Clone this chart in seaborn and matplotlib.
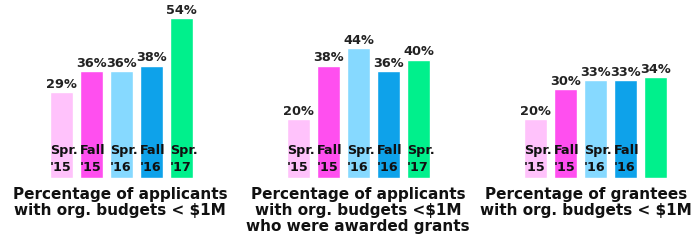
import matplotlib
matplotlib.use("Agg")
import matplotlib.pyplot as plt
import seaborn as sns
import pandas as pd

# Datos
terms = ["Spr. '15", "Fall '15", "Spr. '16", "Fall '16", "Spr. '17"]
bar_labels = ["Spr.\n'15", "Fall\n'15", "Spr.\n'16", "Fall\n'16", "Spr.\n'17"]
colors = ["#FFC2FB", "#FF4FEF", "#86D9FF", "#0EA2EA", "#00F08C"]

applicants = [29, 36, 36, 38, 54]
awarded = [20, 38, 44, 36, 40]
grantees = [20, 30, 33, 33, 34]

titles = [
    "Percentage of applicants\nwith org. budgets < $1M",
    "Percentage of applicants\nwith org. budgets <$1M\nwho were awarded grants",
    "Percentage of grantees\nwith org. budgets < $1M",
]
series = [applicants, awarded, grantees]
# el tercer panel no rotula la última barra
show_last_label = [True, True, False]

sns.set_theme(style="white")
plt.rcParams["font.family"] = ["DejaVu Sans"]

W, H = 698, 248
fig = plt.figure(figsize=(W / 100, H / 100), dpi=100)
fig.patch.set_facecolor("white")

lefts = [46.5, 283.5, 520.5]
title_x = [120, 358, 586]
base_px = 178
for k in range(3):
    ax = fig.add_axes([lefts[k] / W, (H - base_px) / H, 150 / W, base_px / H])
    df = pd.DataFrame({"term": terms, "pct": series[k]})
    sns.barplot(data=df, x="term", y="pct", hue="term", palette=colors,
                width=0.77, legend=False, ax=ax, saturation=1)
    ax.set_xlim(-0.5, 4.5)
    ax.set_ylim(0, base_px / 2.96)
    ax.axis("off")
    for i, v in enumerate(series[k]):
        ax.text(i, v + 0.4, f"{v}%", ha="center", va="bottom",
                fontsize=9.3, fontweight="bold", color="#222222")
        if i == 4 and not show_last_label[k]:
            continue
        ax.text(i - 0.385, 1.5, bar_labels[i], ha="left", va="bottom",
                fontsize=9.2, fontweight="bold", color="#111111",
                linespacing=1.4)
    fig.text(title_x[k] / W, 1 - 187 / H, titles[k], ha="center", va="top",
             fontsize=11, fontweight="bold", color="#111111",
             linespacing=1.1)

fig.savefig("out.png", dpi=100)
